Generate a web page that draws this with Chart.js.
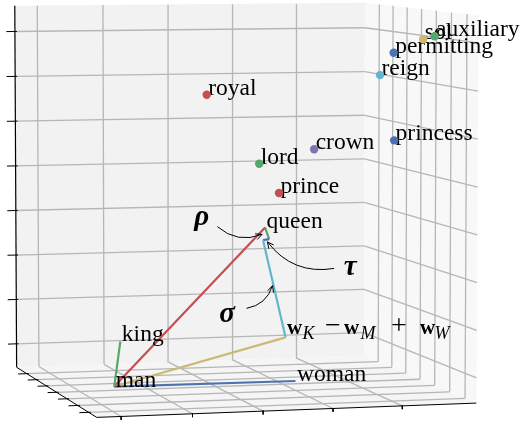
<!DOCTYPE html>
<html>
<head>
<meta charset="utf-8">
<script src="https://cdn.jsdelivr.net/npm/chart.js@4.4.1/dist/chart.umd.min.js"></script>
<style>
  html, body { margin: 0; padding: 0; background: #ffffff; overflow: hidden; }
  canvas { display: block; }
</style>
</head>
<body>
<canvas id="c" width="526" height="427"></canvas>
<script>
// ---- axis limits and tick values (embedding units) ----
const xLim = [-0.34, 5.08];
const yLim = [-0.72, 7.08];
const zLim = [-0.53, 7.57];
const xTicks = [0, 1, 2, 3, 4];
const yTicks = [0, 1, 2, 3, 4, 5, 6];
const zTicks = [0, 1, 2, 3, 4, 5, 6, 7];

// ---- neighbouring words in the 3-D embedding ----
const words = ['royal', 'lord', 'crown', 'prince', 'princess', 'reign', 'permitting', 'sol', 'auxiliary'];
const wordX = [2.04, 2.68, 3.58, 2.90, 4.71, 4.41, 4.53, 4.80, 4.97];
const wordY = [3.96, 3.18, 3.57, 2.79, 3.18, 2.79, 2.40, 1.62, 1.62];
const wordZ = [5.72, 4.26, 4.52, 3.65, 4.71, 6.16, 6.66, 6.98, 7.04];

// ---- analogy vectors: king - man + woman ≈ queen ----
const manVec    = [0.28, 1.62, -0.25];
const kingVec   = [0.37, 1.62, 0.70];
const womanVec  = [2.92, 1.62, -0.27];
const offsetVec = [2.85, 2.01, 0.62];   // w_K - w_M + w_W
const queenVec  = [2.62, 2.40, 2.95];
const sigmaEnd  = [2.59, 2.40, 2.68];
const tauEnd    = [2.68, 2.40, 2.70];

// ---- styling ----
const C = { blue: '#4C72B0', green: '#55A868', red: '#C44E52', purple: '#8172B2', yellow: '#CCB974', cyan: '#64B5CD' };
const wordColors = [C.red, C.green, C.purple, C.red, C.blue, C.cyan, C.blue, C.yellow, C.green];
const SERIF = '"Liberation Serif", "Times New Roman", serif';
const GRID = 'rgb(182,182,182)';
const VIEW_W = 526, VIEW_H = 427;

// perspective camera looking at the centre of the box
const camera = { elev: 4.9, azim: 14.9, dist: 10, focal: 3830, cx: 238, cy: 198 };

function project(p) {
  const u = (p[0] - xLim[0]) / (xLim[1] - xLim[0]) - 0.5;
  const v = (p[1] - yLim[0]) / (yLim[1] - yLim[0]) - 0.5;
  const w = (p[2] - zLim[0]) / (zLim[1] - zLim[0]) - 0.5;
  const a = camera.azim * Math.PI / 180, e = camera.elev * Math.PI / 180;
  const ca = Math.cos(a), sa = Math.sin(a), ce = Math.cos(e), se = Math.sin(e);
  const xc = u * ca - v * sa;
  const yc = u * sa * se + v * ca * se + w * ce;
  const zc = camera.dist + u * sa * ce + v * ca * ce - w * se;
  return { x: camera.cx + camera.focal * xc / zc, y: camera.cy - camera.focal * yc / zc };
}
const lerp3 = (a, b, t) => a.map((ai, i) => ai + (b[i] - ai) * t);

const [x0, x1] = xLim, [y0, y1] = yLim, [z0, z1] = zLim;
const datasets = [];
function addSegment(a, b, color, width, order) {
  datasets.push({
    type: 'scatter', data: [project(a), project(b)], showLine: true,
    borderColor: color, borderWidth: width, pointRadius: 0, pointHoverRadius: 0,
    fill: false, order: order
  });
}

// grid on the three panes
xTicks.forEach(x => {
  addSegment([x, y1, z0], [x, y1, z1], GRID, 1.3, 30);
  addSegment([x, y0, z0], [x, y1, z0], GRID, 1.3, 30);
});
zTicks.forEach(z => {
  addSegment([x0, y1, z], [x1, y1, z], GRID, 1.3, 30);
  addSegment([x1, y0, z], [x1, y1, z], GRID, 1.3, 30);
});
yTicks.forEach(y => {
  addSegment([x0, y, z0], [x1, y, z0], GRID, 1.3, 30);
  addSegment([x1, y, z0], [x1, y, z1], GRID, 1.3, 30);
});

// axis lines and tick marks
addSegment([x0, y1, z0], [x0, y1, z1], '#000', 1.2, 20);
addSegment([x0, y0, z0], [x0, y1, z0], '#000', 1.0, 20);
addSegment([x0, y0, z0], [x1, y0, z0], '#000', 1.0, 20);
zTicks.forEach(z => addSegment([x0 - 0.13, y1, z], [x0 + 0.03, y1, z], '#000', 1.0, 20));
yTicks.forEach(y => addSegment([x0 - 0.13, y, z0], [x0 + 0.03, y, z0], '#000', 1.0, 20));
xTicks.forEach(x => addSegment([x, y0, z0 + 0.01], [x, y0, z0 - 0.07], '#000', 1.0, 20));

// analogy vectors
addSegment(manVec, kingVec, C.green, 2.2, 5);
addSegment(manVec, womanVec, C.blue, 2.2, 5);
addSegment(manVec, offsetVec, C.yellow, 2.2, 5);
addSegment(manVec, queenVec, C.red, 2.2, 5);
addSegment(offsetVec, sigmaEnd, C.cyan, 2.2, 5);
addSegment(sigmaEnd, tauEnd, C.blue, 2.2, 5);
addSegment(tauEnd, queenVec, C.green, 2.2, 5);

// word markers
const wordPoints = words.map((w, i) => project([wordX[i], wordY[i], wordZ[i]]));
datasets.push({
  type: 'scatter', label: 'words', data: wordPoints,
  backgroundColor: wordColors, borderWidth: 0, pointRadius: 4.2, pointHoverRadius: 4.2, order: 0
});

// curved pointers naming the three residual vectors
const annotations = [
  { text: 'ρ', a: queenVec,  b: sigmaEnd, t: 0.5,   tip: [-2, 0.5],  start: [-46.7, -7.2], label: [-62.3, -8.5], rad: 0.3 },
  { text: 'τ', a: sigmaEnd,  b: tauEnd,   t: 0.5,   tip: [1.3, 2.2], start: [68, 28.8],    label: [84, 35],      rad: -0.3 },
  { text: 'σ', a: offsetVec, b: sigmaEnd, t: 0.535, tip: [-1, 0.3],  start: [-27, 23],     label: [-46.5, 37],   rad: 0.3 }
];

function toPx(chart, p) {
  return [chart.scales.x.getPixelForValue(p.x), chart.scales.y.getPixelForValue(p.y)];
}

const panesPlugin = {
  id: 'panes',
  beforeDatasetsDraw(chart) {
    const ctx = chart.ctx;
    const poly = (pts, color) => {
      ctx.beginPath();
      pts.forEach((p, i) => {
        const [px, py] = toPx(chart, project(p));
        i ? ctx.lineTo(px, py) : ctx.moveTo(px, py);
      });
      ctx.closePath();
      ctx.fillStyle = color;
      ctx.fill();
    };
    ctx.save();
    poly([[x0, y1, z0], [x1, y1, z0], [x1, y1, z1], [x0, y1, z1]], '#F2F2F2');
    poly([[x0, y0, z0], [x1, y0, z0], [x1, y1, z0], [x0, y1, z0]], '#F5F5F5');
    poly([[x1, y0, z0], [x1, y1, z0], [x1, y1, z1], [x1, y0, z1]], '#F8F8F8');
    ctx.restore();
  }
};

const labelsPlugin = {
  id: 'wordLabels',
  beforeDatasetDraw(chart, args) {
    if (chart.data.datasets[args.index].label !== 'words') return;
    const ctx = chart.ctx;
    ctx.save();
    ctx.fillStyle = '#000';
    ctx.textAlign = 'left';
    ctx.textBaseline = 'alphabetic';
    ctx.font = '23.5px ' + SERIF;
    wordPoints.forEach((p, i) => {
      const [px, py] = toPx(chart, p);
      ctx.fillText(words[i], px + 1.5, py);
    });
    [['man', manVec], ['king', kingVec], ['woman', womanVec], ['queen', queenVec]].forEach(([t, v]) => {
      const [px, py] = toPx(chart, project(v));
      ctx.fillText(t, px + 1.5, py);
    });
    // w_K − w_M + w_W
    const [ox, oy] = toPx(chart, project(offsetVec));
    const bold = 'bold 21px ' + SERIF, ital = 'italic 18px ' + SERIF, reg = '28px ' + SERIF;
    [['w', bold, 0, 0], ['K', ital, 15.5, 5], ['\u2212', reg, 38, 0], ['w', bold, 57, 0],
     ['M', ital, 73.5, 5], ['+', reg, 104, 0], ['w', bold, 133, 0], ['W', ital, 147.5, 5]]
      .forEach(([t, f, dx, dy]) => { ctx.font = f; ctx.fillText(t, ox + 1.5 + dx, oy - 3 + dy); });
    ctx.restore();
  }
};

const arrowsPlugin = {
  id: 'pointers',
  afterDatasetsDraw(chart) {
    const ctx = chart.ctx;
    ctx.save();
    annotations.forEach(an => {
      const [ax, ay] = toPx(chart, project(lerp3(an.a, an.b, an.t)));
      const sx = ax + an.start[0], sy = ay + an.start[1];
      const tx = ax + an.tip[0], ty = ay + an.tip[1];
      const dx = tx - sx, dy = ty - sy;
      const cxp = (sx + tx) / 2 - an.rad * dy, cyp = (sy + ty) / 2 + an.rad * dx;
      ctx.strokeStyle = '#000';
      ctx.lineWidth = 1;
      ctx.beginPath();
      ctx.moveTo(sx, sy);
      ctx.quadraticCurveTo(cxp, cyp, tx, ty);
      ctx.stroke();
      const ang = Math.atan2(ty - cyp, tx - cxp);
      const hl = 7, hw = 0.45;
      ctx.beginPath();
      ctx.moveTo(tx - hl * Math.cos(ang - hw), ty - hl * Math.sin(ang - hw));
      ctx.lineTo(tx, ty);
      ctx.lineTo(tx - hl * Math.cos(ang + hw), ty - hl * Math.sin(ang + hw));
      ctx.stroke();
      ctx.fillStyle = '#000';
      ctx.font = 'bold italic 29px ' + SERIF;
      ctx.textAlign = 'center';
      ctx.textBaseline = 'alphabetic';
      ctx.fillText(an.text, ax + an.label[0], ay + an.label[1]);
    });
    ctx.restore();
  }
};

new Chart(document.getElementById('c'), {
  type: 'scatter',
  data: { datasets },
  options: {
    responsive: false,
    animation: false,
    devicePixelRatio: 1,
    events: [],
    layout: { padding: 0 },
    plugins: { legend: { display: false }, tooltip: { enabled: false } },
    scales: {
      x: { type: 'linear', display: false, min: 0, max: VIEW_W },
      y: { type: 'linear', display: false, min: 0, max: VIEW_H, reverse: true }
    }
  },
  plugins: [panesPlugin, labelsPlugin, arrowsPlugin]
});
</script>
</body>
</html>
